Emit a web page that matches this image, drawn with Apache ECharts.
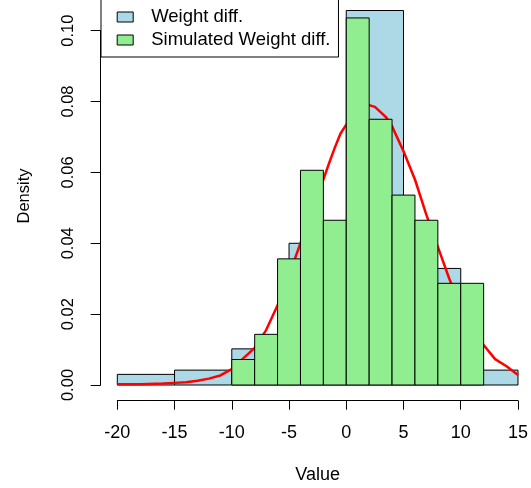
<!DOCTYPE html>
<html>
<head>
<meta charset="utf-8">
<script src="https://cdn.jsdelivr.net/npm/echarts@6/dist/echarts.min.js"></script>
<style>html,body{margin:0;padding:0;background:#fff}#c{width:531px;height:488px}</style>
</head>
<body>
<div id="c"></div>
<script>
const blueEdges = [-20, -15, -10, -5, 0, 5, 10, 15];
const blueDensity = [0.003, 0.0042, 0.0102, 0.040, 0.1057, 0.0329, 0.0042];
const greenEdges = [-10, -8, -6, -4, -2, 0, 2, 4, 6, 8, 10, 12];
const greenDensity = [0.0072, 0.0143, 0.0356, 0.0606, 0.0465, 0.1036, 0.075, 0.0536, 0.0465, 0.0287, 0.0287];
const curveX = [-20, -18, -16, -15, -14, -13, -12, -11, -10, -9, -8, -7, -6, -5, -4, -3, -2, -1.5, -1, -0.5, 0, 0.5, 1, 1.5, 2, 2.5, 3, 3.5, 4, 5, 6, 7, 8, 9, 10, 11, 12, 13, 14, 15];
const curveY = [0.0002, 0.0002, 0.0004, 0.0006, 0.0008, 0.0012, 0.0018, 0.0027, 0.0045, 0.0075, 0.0105, 0.0155, 0.0225, 0.031, 0.040, 0.049, 0.058, 0.0626, 0.067, 0.071, 0.0735, 0.076, 0.078, 0.079, 0.079, 0.0785, 0.077, 0.0755, 0.073, 0.066, 0.058, 0.048, 0.039, 0.030, 0.022, 0.016, 0.0113, 0.0073, 0.0053, 0.0028];
const xTicks = [-20, -15, -10, -5, 0, 5, 10, 15];
const yTicks = [0, 0.02, 0.04, 0.06, 0.08, 0.10];
const seriesNames = ['Weight diff.', 'Simulated Weight diff.'];
const xTitle = 'Value';
const yTitle = 'Density';

const FONT = 'Liberation Sans, Arial, sans-serif';
const BLUE = '#ADD8E6', GREEN = '#90EE90';

function histData(edges, dens) {
  return dens.map((d, i) => [edges[i], edges[i + 1], d]);
}
function rectRenderer(fill) {
  return function (params, api) {
    const p0 = api.coord([api.value(0), api.value(2)]);
    const p1 = api.coord([api.value(1), 0]);
    return {
      type: 'rect',
      shape: { x: p0[0], y: p0[1], width: p1[0] - p0[0], height: p1[1] - p0[1] },
      style: { fill: fill, stroke: '#000', lineWidth: 1 }
    };
  };
}

const chart = echarts.init(document.getElementById('c'), null, { renderer: 'canvas' });
chart.setOption({
  animation: false,
  backgroundColor: '#fff',
  textStyle: { fontFamily: FONT },
  grid: { left: 117.3, right: 10.3, top: 30.7, bottom: 103 },
  legend: {
    orient: 'vertical',
    left: 101,
    top: -10,
    padding: [15.5, 8, 5.5, 15.7],
    itemGap: 0,
    itemWidth: 16,
    itemHeight: 10,
    borderColor: '#000',
    borderWidth: 1,
    backgroundColor: '#fff',
    z: 10,
    textStyle: { fontFamily: FONT, fontSize: 18.5, color: '#000', lineHeight: 23, padding: [0, 0, 0, 13] },
    data: [
      { name: seriesNames[0], icon: 'rect', itemStyle: { color: BLUE, borderColor: '#000', borderWidth: 1 } },
      { name: seriesNames[1], icon: 'rect', itemStyle: { color: GREEN, borderColor: '#000', borderWidth: 1 } }
    ]
  },
  xAxis: {
    type: 'value',
    min: xTicks[0], max: xTicks[xTicks.length - 1], interval: 5,
    offset: 15.7,
    splitLine: { show: false },
    axisLine: { show: true, onZero: false, lineStyle: { color: '#000', width: 1 } },
    axisTick: { show: true, length: 9, lineStyle: { color: '#000' } },
    axisLabel: { color: '#000', fontSize: 18, fontFamily: FONT, margin: 23 }
  },
  yAxis: {
    type: 'value',
    min: yTicks[0], max: yTicks[yTicks.length - 1], interval: 0.02,
    offset: 16.6,
    splitLine: { show: false },
    axisLine: { show: true, onZero: false, lineStyle: { color: '#000', width: 1 } },
    axisTick: { show: true, length: 10, lineStyle: { color: '#000' } },
    axisLabel: { color: '#000', fontSize: 16.5, fontFamily: FONT, rotate: 90, margin: 24, formatter: v => v.toFixed(2) }
  },
  graphic: [
    { type: 'text', x: 317.7, y: 475, style: { text: xTitle, font: '18px ' + FONT, fill: '#000', textAlign: 'center', textVerticalAlign: 'middle' } },
    { type: 'text', x: 24, y: 196, rotation: Math.PI / 2, style: { text: yTitle, font: '16.5px ' + FONT, fill: '#000', textAlign: 'center', textVerticalAlign: 'middle' } }
  ],
  series: [
    {
      name: seriesNames[0], type: 'custom', z: 1, clip: false,
      itemStyle: { color: BLUE },
      renderItem: rectRenderer(BLUE),
      encode: { x: [0, 1], y: 2 },
      data: histData(blueEdges, blueDensity)
    },
    {
      name: 'density', type: 'line', z: 2, showSymbol: false, symbol: 'none',
      lineStyle: { color: '#FF0000', width: 2.5 },
      itemStyle: { color: '#FF0000' },
      data: curveX.map((x, i) => [x, curveY[i]])
    },
    {
      name: seriesNames[1], type: 'custom', z: 3, clip: false,
      itemStyle: { color: GREEN },
      renderItem: rectRenderer(GREEN),
      encode: { x: [0, 1], y: 2 },
      data: histData(greenEdges, greenDensity)
    }
  ]
});
</script>
</body>
</html>
